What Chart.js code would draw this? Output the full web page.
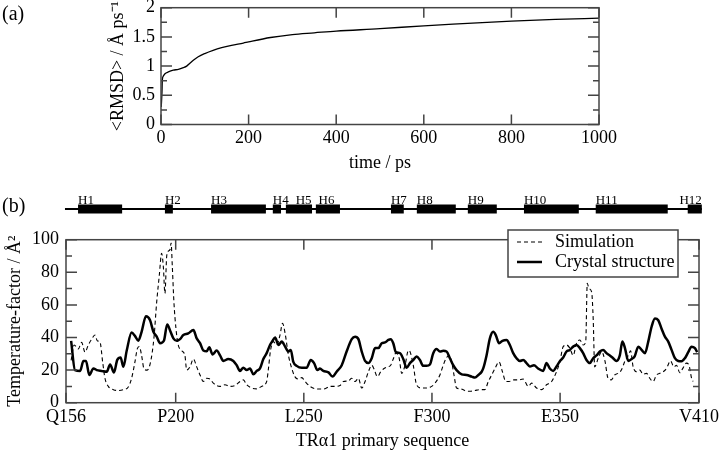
<!DOCTYPE html>
<html>
<head>
<meta charset="utf-8">
<script src="https://cdn.jsdelivr.net/npm/chart.js@4.4.1/dist/chart.umd.min.js"></script>
<style>
  body { margin: 0; background: #fff; }
  #wrap { position: relative; width: 720px; height: 453px; overflow: hidden; font-family: "Liberation Serif", serif; }
  canvas { position: absolute; left: 0; }
  #rmsdChart { top: 0; }
  #bfactorChart { top: 178px; }
  .panel { position: absolute; left: 2px; font-size: 20px; line-height: 20px; color: #000; }
</style>
</head>
<body>
<div id="wrap">
  <canvas id="rmsdChart" width="720" height="176"></canvas>
  <canvas id="bfactorChart" width="720" height="275"></canvas>
  <div class="panel" style="top:3px">(a)</div>
  <div class="panel" style="top:195px">(b)</div>
</div>
<script>
// (a) mean RMSD against time
const rmsdTime = [0.5, 2.3, 3, 5.3, 9.1, 16.7, 28, 39.6, 51, 58.6, 66, 73.8, 85, 100, 119, 138.5, 161, 188, 200, 250, 300, 350, 400, 500, 600, 700, 800, 900, 1000];
const rmsdValue = [0.3, 0.56, 0.76, 0.83, 0.87, 0.9, 0.93, 0.945, 0.974, 1.0, 1.05, 1.1, 1.16, 1.215, 1.27, 1.315, 1.355, 1.395, 1.415, 1.49, 1.54, 1.57, 1.6, 1.64, 1.69, 1.73, 1.77, 1.8, 1.82];
const rmsdXTicks = [0, 200, 400, 600, 800, 1000];
const rmsdYTicks = [0, 0.5, 1, 1.5, 2];
const rmsdYMinor = [0.25, 0.75, 1.25, 1.75];

// (b) temperature factors along the sequence, [residue, B]
const simulationB = [
  [159.2,26],[160.4,35.4],[162.0,33],[163.3,37],[164.6,31],[165.9,35.4],[167.2,38.9],[168.5,41.5],[169.4,38],[170.5,37],
  [171.5,25],[172.4,15],[173.7,10],[175.7,8],[177.6,7.5],[179.6,8],[181.5,9.6],[182.8,15],[184.1,25],[185.0,33],
  [185.8,34.5],[186.7,29],[187.6,21],[188.9,20],[190.2,25],[191.5,39.5],[192.6,62],[193.6,78],[194.5,91.6],[195.2,83],
  [195.8,67],[196.5,90],[197.1,93],[197.8,94],[198.2,98],[198.7,83],[199.3,62],[200.1,45.6],[201.0,35.4],[202.3,32],
  [203.6,29],[204.3,20],[205.6,22],[206.9,26.8],[208.2,22],[209.5,17],[210.8,13],[212.1,15],[213.4,14.5],[214.7,12],
  [216.0,10.5],[217.3,10],[219.2,11],[221.2,10],[223.1,10.5],[225.1,13],[226.4,14],[227.7,11],[229.6,9],[231.6,8.5],
  [233.5,10],[235.5,13],[236.2,21],[237.0,32],[238.1,37.5],[239.4,35.4],[240.7,41.5],[241.7,48.7],[242.7,42.5],[244.0,29],
  [245.3,21],[246.5,16],[247.8,14.5],[249.2,15.4],[250.5,13],[252.4,10],[254.4,8.6],[256.3,8.4],[258.3,8.6],[260.2,10],
  [262.2,10],[264.1,10.5],[265.4,13],[267.4,13.4],[268.7,15],[270.0,13],[271.3,15],[272.6,9],[273.9,13],[275.2,19],
  [276.5,23],[277.4,20.6],[278.7,16],[280.0,19],[281.3,21],[282.6,22],[283.9,23],[284.9,26.8],[285.9,30.4],[287.2,27.3],
  [288.2,18],[289.5,23],[290.8,32],[291.4,31.4],[292.7,23],[294.0,11],[296.0,9],[297.9,9],[299.9,10],[301.2,12],
  [303.1,17],[304.4,23],[305.7,27.7],[306.7,29],[307.7,25],[308.6,17],[309.6,9],[310.9,8.6],[312.2,8],[313.5,7],
  [314.8,7],[316.8,7.5],[318.7,8],[320.6,8],[322.0,13],[323.3,17],[324.6,21],[326.2,25],[327.5,19],[328.8,13],
  [330.1,13],[331.7,14],[333.7,14],[335.6,14.5],[337.6,10],[338.9,12],[340.8,9],[342.8,8],[344.7,11],[346.7,13],
  [348.6,19],[349.9,25],[351.2,34.4],[352.5,35.4],[353.8,33.5],[355.1,29],[356.4,36.5],[357.7,38.5],[359.0,35.4],[360.0,37.5],
  [360.6,73.2],[361.3,70],[362.3,68],[362.9,52],[363.5,22],[364.9,27.3],[366.2,31.4],[367.5,25.6],[368.7,15],[370.0,14],
  [371.3,17],[372.6,18],[373.9,20],[375.3,25.6],[376.6,29],[377.5,31.8],[378.5,22],[379.8,19],[381.1,20],[382.4,17.4],
  [383.7,18],[385.0,15],[386.3,13],[387.6,17],[388.9,18],[390.2,19],[391.5,21],[393.1,25.6],[394.4,22],[395.4,23],
  [396.7,18.4],[398.0,21.4],[399.3,24.3],[400.3,23],[401.3,15],[401.9,13]
];
const crystalB = [
  [159.2,37.9],[160.7,20],[162.7,19.5],[164.0,25.6],[165.0,25.6],[166.3,17],[167.9,21],[169.2,20],[171.1,19.5],[173.1,19],
  [174.4,23.5],[175.9,18.5],[177.2,26.3],[178.5,27.7],[179.6,22],[180.9,32],[182.8,43],[184.1,41],[185.4,38],[186.7,43.5],
  [188.4,53],[190.0,50.6],[191.3,43.5],[192.6,40.5],[193.9,36.5],[195.4,38],[196.7,48],[198.0,43.5],[199.1,39.5],[200.4,38],
  [201.7,39],[203.0,41.5],[204.9,42.5],[206.9,44.6],[208.2,39.5],[209.5,36.5],[210.8,32],[212.1,31.5],[213.1,34],[214.4,29.6],
  [216.0,32],[217.3,29],[218.6,25.6],[220.5,26.8],[222.5,25.6],[223.8,23],[225.1,19.5],[226.4,21.5],[227.7,20],[229.0,21],
  [230.3,17.4],[231.6,19.5],[232.9,21],[234.2,26.8],[235.5,30.4],[236.8,35.4],[237.8,38],[238.8,40],[240.1,35.4],[241.4,37.5],
  [242.7,34.4],[244.0,31.4],[244.9,32.4],[245.9,25],[247.2,22.6],[249.2,21.4],[251.1,21.4],[252.7,26.2],[254.0,24.3],[255.3,20],
  [256.3,21],[257.6,19.5],[259.6,18.6],[261.2,16],[262.8,19],[264.8,23],[266.7,31.4],[268.7,39],[270.0,40.5],[271.3,39],
  [272.6,31.4],[273.9,25.6],[275.2,24.3],[276.5,27.3],[277.8,33.5],[279.1,33.5],[280.4,36.5],[281.7,37],[283.0,38.5],[283.9,39],
  [284.9,36.5],[285.9,31],[287.5,30.4],[288.8,26.8],[290.1,21.4],[291.4,24.3],[292.7,26.2],[294.0,28.4],[295.3,26.2],[296.6,22.6],
  [297.9,22.6],[299.2,23.4],[300.5,30.4],[301.8,33],[303.1,31.4],[304.4,31.8],[305.7,31.4],[307.0,27.3],[308.3,23],[309.6,20],
  [311.6,17.4],[313.5,17],[315.5,16],[316.8,15.4],[318.1,17],[319.4,19],[320.0,21],[321.3,29],[322.6,39.5],[323.9,43.5],
  [324.9,41.5],[326.2,36.5],[327.5,38],[329.1,38.5],[330.4,35.4],[331.7,30.4],[333.0,27.3],[334.3,25.6],[335.6,26.2],[336.9,24.3],
  [338.2,22.2],[339.8,23],[341.4,21],[343.4,19.5],[344.7,24.3],[346.0,21],[347.3,19.5],[348.6,22.2],[349.9,25.4],[351.2,27.7],
  [352.5,31.4],[353.8,32.4],[355.1,34.4],[356.4,35.4],[357.7,33.5],[359.0,30.4],[360.3,26.2],[361.6,24.3],[362.9,27.3],[364.2,29],
  [365.5,31.4],[366.8,32.4],[368.1,30.4],[369.4,29],[370.7,27.3],[372.0,25.6],[373.3,29],[374.3,37.5],[375.3,33.5],[376.6,25.6],
  [377.9,26.8],[379.1,28.4],[380.5,34.4],[381.8,32.4],[383.1,30.4],[384.4,37.5],[385.7,46.6],[387.0,51.7],[388.3,50.6],[389.6,45.4],
  [390.9,40.5],[392.2,37.5],[393.5,32.4],[394.8,27.3],[396.1,25.6],[397.4,25.4],[398.7,27.3],[400.0,31],[401.3,34.4],[402.6,33.5],
  [403.5,31]
];
const seqTickValues = [157.2, 200, 250, 300, 350, 404.2];
const seqTickLabels = ["Q156", "P200", "L250", "F300", "E350", "V410"];
const bYTicks = [0, 20, 40, 60, 80, 100];
const bYMinor = [10, 30, 50, 70, 90];

// secondary structure strip
const sequenceSpan = [156.8, 405.3];
const helixNames = ["H1", "H2", "H3", "H4", "H5", "H6", "H7", "H8", "H9", "H10", "H11", "H12"];
const helixStart = [161.9, 195.8, 213.8, 237.9, 243.0, 254.7, 284.0, 294.1, 314.0, 335.9, 363.9, 399.8];
const helixEnd = [179.1, 198.9, 235.2, 241.1, 253.2, 264.1, 289.0, 309.3, 325.3, 357.3, 392.0, 405.3];

const FONT = "Liberation Serif";
const FRAME = "#444";
Chart.defaults.font.family = FONT;
Chart.defaults.font.size = 18;
Chart.defaults.color = "#000";

const toPoints = (xs, ys) => xs.map((x, i) => ({ x: x, y: ys[i] }));
const pairPoints = (pairs) => pairs.map((p) => ({ x: p[0], y: p[1] }));
const setTicks = (vals) => (scale) => {
  scale.ticks = vals.map((v) => ({ value: v }));
};

// box round the plot with inward tick marks on all four sides
const framePlugin = {
  id: "frame",
  afterDraw(chart, args, opts) {
    const { ctx, chartArea: a } = chart;
    const x = chart.scales.x;
    const y = chart.scales.y;
    ctx.save();
    ctx.strokeStyle = FRAME;
    ctx.lineWidth = 1.5;
    ctx.strokeRect(a.left, a.top, a.right - a.left, a.bottom - a.top);
    ctx.beginPath();
    const xt = (vals, len) =>
      vals.forEach((v) => {
        const px = x.getPixelForValue(v);
        ctx.moveTo(px, a.bottom);
        ctx.lineTo(px, a.bottom - len);
        ctx.moveTo(px, a.top);
        ctx.lineTo(px, a.top + len);
      });
    const yt = (vals, len) =>
      vals.forEach((v) => {
        const py = y.getPixelForValue(v);
        ctx.moveTo(a.left, py);
        ctx.lineTo(a.left + len, py);
        ctx.moveTo(a.right, py);
        ctx.lineTo(a.right - len, py);
      });
    xt(opts.xMajor || [], 10);
    yt(opts.yMajor || [], 11);
    yt(opts.yMinor || [], 6);
    ctx.stroke();
    ctx.restore();
  },
};

// helix boxes above panel (b)
const helixPlugin = {
  id: "helices",
  afterDraw(chart) {
    const { ctx, chartArea: a } = chart;
    const x = chart.scales.x;
    const yMid = a.top - 30.7;
    const x0 = x.getPixelForValue(sequenceSpan[0]);
    const x1 = x.getPixelForValue(sequenceSpan[1]);
    ctx.save();
    ctx.strokeStyle = "#000";
    ctx.fillStyle = "#000";
    ctx.lineWidth = 2;
    ctx.beginPath();
    ctx.moveTo(x0, yMid);
    ctx.lineTo(x1, yMid);
    ctx.stroke();
    ctx.font = "13px " + FONT;
    ctx.textBaseline = "alphabetic";
    let lastEnd = -Infinity;
    helixNames.forEach((name, i) => {
      const s = x.getPixelForValue(helixStart[i]);
      const e = x.getPixelForValue(helixEnd[i]);
      ctx.fillRect(s, yMid - 4.5, e - s, 9);
      const w = ctx.measureText(name).width;
      let lx = Math.max(s, lastEnd + 7);
      if (lx + w > x1) lx = e - w;
      ctx.textAlign = "left";
      ctx.fillText(name, lx, yMid - 5.5);
      lastEnd = lx + w;
    });
    ctx.restore();
  },
};

// boxed legend in the top right corner
const legendPlugin = {
  id: "boxLegend",
  afterDraw(chart) {
    const { ctx, chartArea: a } = chart;
    const bx = a.right - 191;
    const by = a.top - 9.7;
    ctx.save();
    ctx.fillStyle = "#fff";
    ctx.fillRect(bx, by, 170, 47);
    ctx.strokeStyle = FRAME;
    ctx.lineWidth = 1.5;
    ctx.strokeRect(bx, by, 170, 47);
    ctx.font = "18px " + FONT;
    ctx.textAlign = "left";
    ctx.textBaseline = "middle";
    chart.data.datasets.forEach((ds, i) => {
      const ly = by + 12 + i * 20;
      ctx.setLineDash(ds.borderDash || []);
      ctx.strokeStyle = ds.borderColor;
      ctx.lineWidth = ds.borderWidth;
      ctx.beginPath();
      ctx.moveTo(bx + 9, ly);
      ctx.lineTo(bx + 34, ly);
      ctx.stroke();
      ctx.setLineDash([]);
      ctx.fillStyle = "#000";
      ctx.fillText(ds.label, bx + 47, ly);
    });
    ctx.restore();
  },
};

new Chart(document.getElementById("rmsdChart"), {
  type: "line",
  data: {
    datasets: [
      {
        label: "RMSD",
        data: toPoints(rmsdTime, rmsdValue),
        borderColor: "#000",
        borderWidth: 1.3,
        pointRadius: 0,
        cubicInterpolationMode: "monotone",
      },
    ],
  },
  options: {
    responsive: false,
    animation: false,
    devicePixelRatio: 1,
    layout: { padding: { left: 100, right: 121, top: 7.7, bottom: 0 } },
    plugins: {
      legend: { display: false },
      tooltip: { enabled: false },
      frame: { xMajor: rmsdXTicks, yMajor: rmsdYTicks, yMinor: rmsdYMinor },
    },
    scales: {
      x: {
        type: "linear",
        min: 0,
        max: 1000,
        afterBuildTicks: setTicks(rmsdXTicks),
        grid: { display: false, drawTicks: false },
        border: { display: false },
        ticks: { padding: 2.5, maxRotation: 0, autoSkip: false, callback: (v) => String(v) },
        title: { display: true, text: "time / ps", padding: { top: 0, bottom: 2.2 } },
        afterFit: (s) => {
          s.height = 176 - 124.5;
          s.paddingLeft = 0;
          s.paddingRight = 0;
        },
      },
      y: {
        min: 0,
        max: 2,
        afterBuildTicks: setTicks(rmsdYTicks),
        grid: { display: false, drawTicks: false },
        border: { display: false },
        ticks: { padding: 6, autoSkip: false, callback: (v) => String(v) },
        title: { display: true, text: "<RMSD> / Å ps⁻¹", padding: { top: 7.2, bottom: 0 } },
        afterFit: (s) => {
          s.width = 61;
          s.paddingTop = 0;
          s.paddingBottom = 0;
        },
      },
    },
  },
  plugins: [framePlugin],
});

new Chart(document.getElementById("bfactorChart"), {
  type: "line",
  data: {
    datasets: [
      {
        label: "Simulation",
        data: pairPoints(simulationB),
        borderColor: "#000",
        borderWidth: 1.1,
        borderDash: [4, 3],
        pointRadius: 0,
        cubicInterpolationMode: "monotone",
      },
      {
        label: "Crystal structure",
        data: pairPoints(crystalB),
        borderColor: "#000",
        borderWidth: 2.5,
        pointRadius: 0,
        cubicInterpolationMode: "monotone",
      },
    ],
  },
  options: {
    responsive: false,
    animation: false,
    devicePixelRatio: 1,
    layout: { padding: { left: 0, right: 21, top: 61.7, bottom: 0 } },
    plugins: {
      legend: { display: false },
      tooltip: { enabled: false },
      frame: { xMajor: seqTickValues, yMajor: bYTicks, yMinor: bYMinor },
    },
    scales: {
      x: {
        type: "linear",
        min: seqTickValues[0],
        max: seqTickValues[seqTickValues.length - 1],
        afterBuildTicks: setTicks(seqTickValues),
        grid: { display: false, drawTicks: false },
        border: { display: false },
        ticks: { padding: 3.5, maxRotation: 0, autoSkip: false, callback: (v, i) => seqTickLabels[i] },
        title: { display: true, text: "TRα1 primary sequence", padding: { top: 0, bottom: 0.5 } },
        afterFit: (s) => {
          s.height = 275 - 224.7;
          s.paddingLeft = 0;
          s.paddingRight = 0;
        },
      },
      y: {
        min: 0,
        max: 100,
        afterBuildTicks: setTicks(bYTicks),
        grid: { display: false, drawTicks: false },
        border: { display: false },
        ticks: { padding: 7, autoSkip: false, callback: (v) => String(v) },
        title: { display: true, text: "Temperature-factor / Å²", padding: { top: 4.2, bottom: 0 } },
        afterFit: (s) => {
          s.width = 66;
          s.paddingTop = 0;
          s.paddingBottom = 0;
        },
      },
    },
  },
  plugins: [framePlugin, helixPlugin, legendPlugin],
});
</script>
</body>
</html>
